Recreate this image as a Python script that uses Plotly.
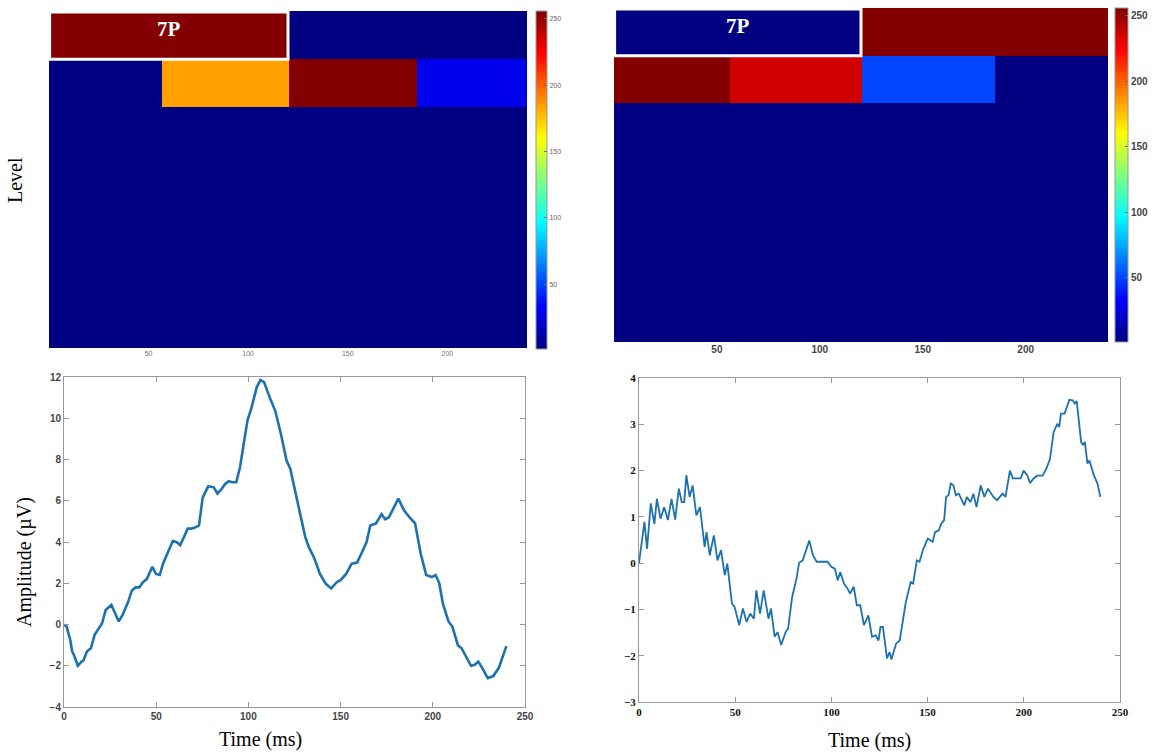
import plotly.graph_objects as go

# ---------------- data ----------------
levels = [1, 2, 3, 4, 5, 6, 7]
left_level_vals = {
    1: [255, 1],
    2: [1, 184, 255, 28],
}
right_level_vals = {
    1: [1, 255],
    2: [255, 236, 50, 1],
}
level2_edges = [0, 56.5, 120.5, 185, 240]
time_span = 240
node_label = "7P"

tick_vals_hm = [50, 100, 150, 200]
cbar_ticks = [50, 100, 150, 200, 250]

left_t = [0, 1.4, 3.4, 4.4, 5.5, 7.5, 9.5, 10.5, 12.5, 14.6,
          16.6, 18.6, 20.6, 22.6, 24.7, 25.7, 27.7, 29.7, 31.7, 34.8,
          36.8, 38.8, 40.8, 42.8, 44.9, 47.9, 49.9, 51.9, 53.9, 56.9,
          59.0, 61.0, 63.0, 65.1, 67.1, 69.1, 71.1, 73.2, 75.2, 78.2,
          81.2, 83.2, 85.3, 87.3, 89.3, 91.4, 93.4, 95.4, 97.4, 99.5,
          101.5, 104.5, 106.5, 108.5, 111.6, 114.6, 117.6, 120.7, 122.7, 125.7,
          128.7, 130.8, 132.8, 135.8, 138.8, 141.9, 144.9, 147.9, 150.0, 153.0,
          156.0, 159.0, 162.1, 164.1, 166.1, 169.2, 172.2, 174.2, 176.2, 178.2,
          181.3, 184.3, 187.3, 190.4, 193.4, 196.4, 199.5, 201.5, 203.5, 205.5,
          208.5, 210.6, 213.6, 215.6, 218.7, 220.7, 222.7, 224.7, 226.8, 229.8,
          232.8, 235.8, 238.9, 239.9]
left_amp = [0.0, -0.1, -0.75, -1.3, -1.5, -2.0, -1.8, -1.75, -1.3, -1.15,
            -0.5, -0.2, 0.05, 0.7, 0.85, 0.95, 0.55, 0.15, 0.45, 1.1,
            1.65, 1.8, 1.8, 2.05, 2.2, 2.8, 2.45, 2.4, 3.0, 3.65,
            4.05, 4.0, 3.85, 4.25, 4.65, 4.65, 4.7, 4.8, 6.15, 6.7,
            6.65, 6.35, 6.55, 6.8, 6.95, 6.9, 6.9, 7.6, 8.75, 9.9,
            10.45, 11.5, 11.85, 11.75, 11.0, 10.35, 9.25, 7.95, 7.55, 6.35,
            5.05, 4.25, 3.75, 3.2, 2.45, 1.98, 1.75, 2.05, 2.15, 2.45,
            2.95, 3.0, 3.6, 4.0, 4.8, 4.9, 5.35, 5.1, 5.2, 5.55,
            6.1, 5.55, 5.2, 4.9, 3.45, 2.4, 2.3, 2.4, 2.0, 1.0,
            0.15, -0.1, -1.0, -1.15, -1.65, -2.0, -1.95, -1.8, -2.1, -2.6,
            -2.5, -2.1, -1.3, -1.05]

right_t = [0.0, 2.8, 4.2, 6.1, 8.0, 9.3, 11.2, 13.1, 15.0, 16.9,
           18.8, 20.7, 22.2, 23.5, 24.6, 26.3, 27.9, 29.8, 31.7, 33.2,
           34.1, 35.1, 36.8, 38.9, 40.8, 42.6, 44.6, 45.9, 48.3, 49.7,
           52.1, 54.0, 55.9, 57.8, 59.7, 61.0, 62.9, 64.8, 67.3, 68.6,
           70.5, 72.0, 73.9, 76.2, 77.5, 79.6, 81.9, 83.2, 85.1, 88.5,
           90.4, 92.3, 98.0, 99.9, 101.8, 103.3, 104.6, 106.5, 108.4, 109.7,
           111.6, 113.2, 115.0, 116.9, 119.2, 121.1, 123.0, 124.5, 125.5, 126.8,
           128.9, 130.2, 131.2, 133.6, 135.5, 138.7, 141.2, 142.5, 144.4, 145.8,
           147.8, 150.1, 152.6, 153.9, 155.8, 157.1, 158.6, 159.6, 160.9, 162.0,
           163.4, 164.7, 166.2, 169.1, 170.4, 172.3, 173.8, 175.4, 177.6, 179.5,
           181.4, 184.2, 186.1, 189.0, 190.5, 192.8, 194.3, 198.4, 199.9, 201.9,
           203.2, 205.1, 207.0, 209.8, 211.7, 213.6, 215.5, 217.4, 218.4, 219.3,
           221.2, 223.7, 225.4, 226.5, 227.5, 229.8, 230.7, 231.7, 233.1, 234.1,
           236.4, 238.3, 239.8]
right_amp = [0.0, 0.89, 0.31, 1.29, 0.85, 1.39, 0.96, 1.21, 0.93, 1.39,
             0.94, 1.61, 1.32, 1.32, 1.9, 1.43, 1.68, 1.03, 1.21, 0.57,
             0.35, 0.67, 0.17, 0.6, 0.06, 0.28, -0.26, -0.01, -0.87, -0.95,
             -1.34, -0.98, -1.27, -1.09, -1.2, -0.59, -1.09, -0.59, -1.2, -0.98,
             -1.59, -1.49, -1.77, -1.49, -1.41, -0.73, -0.33, 0.01, 0.06, 0.49,
             0.17, 0.03, 0.03, -0.08, -0.12, -0.37, -0.19, -0.44, -0.55, -0.66,
             -0.51, -0.91, -0.91, -1.34, -1.13, -1.59, -1.56, -1.67, -1.38, -1.38,
             -2.06, -1.92, -2.08, -1.74, -1.67, -0.84, -0.41, -0.44, 0.06, 0.03,
             0.31, 0.53, 0.46, 0.67, 0.71, 0.85, 0.93, 1.43, 1.47, 1.72,
             1.68, 1.47, 1.5, 1.25, 1.43, 1.32, 1.5, 1.21, 1.68, 1.43,
             1.61, 1.43, 1.36, 1.5, 1.43, 2.0, 1.83, 1.83, 2.0, 1.89,
             1.73, 1.83, 1.89, 1.89, 2.04, 2.25, 2.83, 3.01, 2.94, 3.23,
             3.23, 3.53, 3.52, 3.45, 3.5, 2.62, 2.55, 2.62, 2.15, 2.22,
             1.9, 1.72, 1.43]

assert len(left_t) == len(left_amp)
assert len(right_t) == len(right_amp)

# ---------------- styling ----------------
JET = [[0, "rgb(0,0,128)"], [0.125, "rgb(0,0,255)"], [0.375, "rgb(0,255,255)"],
       [0.625, "rgb(255,255,0)"], [0.875, "rgb(255,0,0)"], [1, "rgb(128,0,0)"]]
SERIF = "Times New Roman, Liberation Serif, serif"
SANS = "Arial, Liberation Sans, sans-serif"
LINE_COLOR = "rgb(28,113,176)"

W, H = 1152, 754


def fx(px):
    return px / W


def fy(py):
    return 1 - py / H


def level_edges(level):
    if level == 2:
        return level2_edges
    n = 2 ** level
    return [time_span * i / n for i in range(n + 1)]


def build_grid(vals_dict):
    """Union of all node edges -> one z row per level (no seams between rows)."""
    edges = sorted({round(e, 6) for lv in levels for e in level_edges(lv)})
    z = []
    for lv in levels:
        le = level_edges(lv)
        vals = vals_dict.get(lv, [1] * (len(le) - 1))
        row = []
        for a, b in zip(edges[:-1], edges[1:]):
            mid = (a + b) / 2
            k = max(i for i in range(len(le) - 1) if le[i] <= mid)
            row.append(vals[k])
        z.append(row)
    y_edges = [lv - 0.5 for lv in levels] + [levels[-1] + 0.5]
    return edges, y_edges, z


fig = go.Figure()

for vals_dict, xa, ya, cax in ((left_level_vals, "x", "y", "coloraxis"),
                               (right_level_vals, "x2", "y2", "coloraxis2")):
    xe, ye, z = build_grid(vals_dict)
    fig.add_trace(go.Heatmap(z=z, x=xe, y=ye, coloraxis=cax, xaxis=xa, yaxis=ya,
                             hoverinfo="skip"))

fig.add_trace(go.Scatter(x=left_t, y=left_amp, mode="lines", xaxis="x3", yaxis="y3",
                         line=dict(color=LINE_COLOR, width=2.6), showlegend=False))
fig.add_trace(go.Scatter(x=right_t, y=right_amp, mode="lines", xaxis="x4", yaxis="y4",
                         line=dict(color=LINE_COLOR, width=1.8), showlegend=False))

# white frame + label on the 7P node
for xr, yr in (("x", "y"), ("x2", "y2")):
    fig.add_shape(type="rect", xref=xr, yref=yr, x0=0.3, x1=120, y0=0.52, y1=1.5,
                  line=dict(color="white", width=3), layer="above")
    fig.add_annotation(xref=xr, yref=yr, x=60, y=1, yshift=6, text=f"<b>{node_label}</b>",
                       showarrow=False, font=dict(family=SERIF, size=21, color="white"))

hm_y = dict(range=[7.5, 0.5], showticklabels=False, ticks="", showgrid=False,
            zeroline=False, showline=False)

fig.update_layout(
    width=W, height=H, margin=dict(l=0, r=0, t=0, b=0, autoexpand=False),
    paper_bgcolor="white", plot_bgcolor="white", showlegend=False,
    coloraxis=dict(colorscale=JET, cmin=1, cmax=256,
                   colorbar=dict(x=fx(536), xanchor="left", y=fy(11), yanchor="top",
                                 len=338 / H, lenmode="fraction", thickness=11,
                                 xpad=0, ypad=0,
                                 tickvals=cbar_ticks, ticks="inside", ticklen=3,
                                 tickcolor="#666", outlinewidth=1, outlinecolor="#999",
                                 tickfont=dict(family=SANS, size=7, color="#666"))),
    coloraxis2=dict(colorscale=JET, cmin=1, cmax=256,
                    colorbar=dict(x=fx(1115), xanchor="left", y=fy(8), yanchor="top",
                                  len=334 / H, lenmode="fraction", thickness=13,
                                  xpad=0, ypad=0,
                                  tickvals=cbar_ticks, ticks="inside", ticklen=3,
                                  tickcolor="#666", outlinewidth=1, outlinecolor="#999",
                                  tickfont=dict(family=SANS, size=10, color="#444",
                                                weight="bold"))),
    xaxis=dict(domain=[fx(49), fx(527)], range=[0, 240], tickvals=tick_vals_hm,
               ticks="", showgrid=False, zeroline=False, showline=False, anchor="y",
               tickfont=dict(family=SANS, size=7, color="#777")),
    yaxis=dict(domain=[fy(348), fy(11)], anchor="x", **hm_y),
    xaxis2=dict(domain=[fx(614), fx(1108)], range=[0, 240], tickvals=tick_vals_hm,
                ticks="", showgrid=False, zeroline=False, showline=False, anchor="y2",
                tickfont=dict(family=SANS, size=10, color="#444", weight="bold")),
    yaxis2=dict(domain=[fy(342), fy(8)], anchor="x2", **hm_y),
    xaxis3=dict(domain=[fx(64), fx(525)], range=[0, 250], tickvals=[0, 50, 100, 150, 200, 250],
                anchor="y3", showline=True, linecolor="#999", linewidth=1, mirror="ticks",
                ticks="inside", ticklen=5, tickcolor="#999", showgrid=False, zeroline=False,
                tickfont=dict(family=SANS, size=10, color="#444", weight="bold")),
    yaxis3=dict(domain=[fy(707), fy(377)], range=[-4, 12], tickvals=list(range(-4, 13, 2)),
                anchor="x3", showline=True, linecolor="#999", linewidth=1, mirror="ticks",
                ticks="inside", ticklen=5, tickcolor="#999", showgrid=False, zeroline=False,
                tickfont=dict(family=SANS, size=10, color="#444", weight="bold")),
    xaxis4=dict(domain=[fx(639), fx(1120)], range=[0, 250], tickvals=[0, 50, 100, 150, 200, 250],
                anchor="y4", showline=True, linecolor="#999", linewidth=1, mirror="ticks",
                ticks="inside", ticklen=5, tickcolor="#999", showgrid=False, zeroline=False,
                tickfont=dict(family=SERIF, size=11, color="#111", weight="bold")),
    yaxis4=dict(domain=[fy(702), fy(378)], range=[-3, 4], tickvals=list(range(-3, 5)),
                anchor="x4", showline=True, linecolor="#999", linewidth=1, mirror="ticks",
                ticks="inside", ticklen=5, tickcolor="#999", showgrid=False, zeroline=False,
                tickfont=dict(family=SERIF, size=11, color="#111", weight="bold")),
)

# axis titles as free text
titles = [
    dict(x=fx(15), y=fy(180), text="Level", textangle=-90),
    dict(x=fx(24), y=fy(562), text="Amplitude (\u00b5V)", textangle=-90),
    dict(x=fx(260), y=fy(739), text="Time (ms)", textangle=0),
    dict(x=fx(869), y=fy(740), text="Time (ms)", textangle=0),
]
for t in titles:
    fig.add_annotation(xref="paper", yref="paper", x=t["x"], y=t["y"], text=t["text"],
                       textangle=t["textangle"], showarrow=False,
                       xanchor="center", yanchor="middle",
                       font=dict(family=SERIF, size=20, color="black"))

# remove the browser's default 8px body margin so the figure sits at the page origin
fig.write_html("out.html",
               config={"displayModeBar": False},
               post_script="document.body.style.margin='0';"
                           "document.body.style.overflow='hidden';")
